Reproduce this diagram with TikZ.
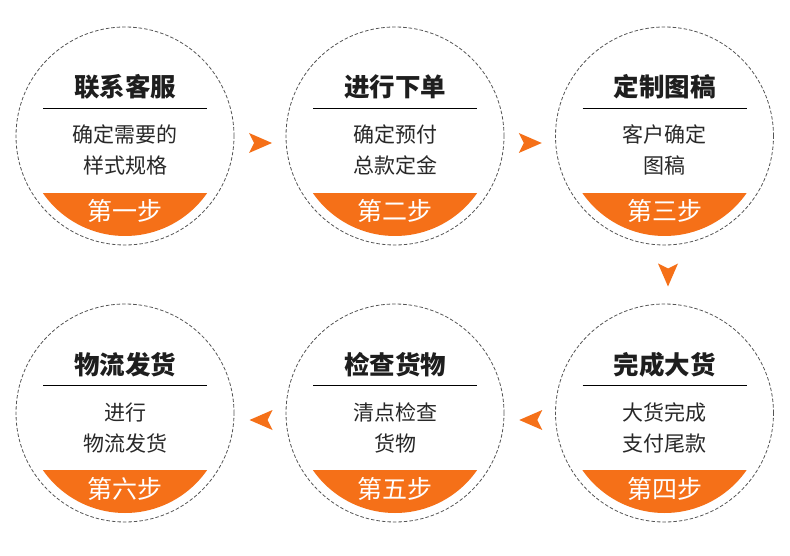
\documentclass[tikz,border=0pt]{standalone}
\usepackage{fontspec}
\setmainfont{Noto Sans CJK SC}
\usetikzlibrary{calc}
\definecolor{orng}{RGB}{245,112,24}
\definecolor{ringc}{RGB}{85,85,85}
\definecolor{titlec}{RGB}{30,30,30}
\definecolor{bodyc}{RGB}{40,40,40}
\tikzset{
  ring/.style={circle, draw=ringc, dash pattern=on 3.5pt off 2pt, line width=0.8pt, minimum size=218pt, inner sep=0pt},
  titletext/.style={anchor=base, text=titlec, font=\fontsize{25.5}{30}\selectfont\bfseries, inner sep=0pt},
  bodytext/.style={anchor=base, text=bodyc, font=\fontsize{21}{26}\selectfont, inner sep=0pt},
  steptext/.style={anchor=base, text=white, font=\fontsize{25}{28}\selectfont, inner sep=0pt},
  rarr/.pic={\fill[orng] (-11,-10) -- (12,0) -- (-11,10) -- (-6,0) -- cycle;},
  larr/.pic={\fill[orng] (11,-10) -- (-12,0) -- (11,10) -- (6,0) -- cycle;},
  darr/.pic={\fill[orng] (-10,-11) -- (0,12) -- (10,-11) -- (0,-6) -- cycle;}
}
\newcommand\stepcircle[7]{%
  \node[ring] (#1) at (#2,#3) {};
  \begin{scope}
    \clip (#1) circle[radius=100];
    \fill[orng] ($(#1)+(-102,57)$) rectangle ($(#1)+(102,102)$);
  \end{scope}
  \node[titletext] (#1-t) at ($(#1)+(0,-39)$) {#4};
  \draw[line width=0.9pt, black] ($(#1)+(-82,-28)$) coordinate (#1-l1) -- ($(#1)+(82,-28)$) coordinate (#1-l2);
  \node[bodytext] (#1-a) at ($(#1)+(0,7)$) {#5};
  \node[bodytext] (#1-b) at ($(#1)+(0,38)$) {#6};
  \node[steptext] (#1-s) at ($(#1)+(0,85)$) {#7};
}
\begin{document}
\begin{tikzpicture}[x=1pt,y=-1pt]
\fill[white] (0,0) rectangle (790,556);
\useasboundingbox (0,0) rectangle (790,556);
\stepcircle{c1}{125}{136}{联系客服}{确定需要的}{样式规格}{第一步}
\stepcircle{c2}{395}{136}{进行下单}{确定预付}{总款定金}{第二步}
\stepcircle{c3}{664.5}{136}{定制图稿}{客户确定}{图稿}{第三步}
\stepcircle{c4}{664.5}{413}{完成大货}{大货完成}{支付尾款}{第四步}
\stepcircle{c5}{395}{413}{检查货物}{清点检查}{货物}{第五步}
\stepcircle{c6}{125}{413}{物流发货}{进行}{物流发货}{第六步}
\pic at ($(c1)!0.5!(c2)+(0,7)$) {rarr};
\pic at ($(c2)!0.5!(c3)+(0,7)$) {rarr};
\pic at ($(c3)!0.5!(c4)+(3.5,0)$) {darr};
\pic at ($(c4)!0.5!(c5)+(1.5,7)$) {larr};
\pic at ($(c5)!0.5!(c6)+(1.5,7)$) {larr};
\end{tikzpicture}
\end{document}
